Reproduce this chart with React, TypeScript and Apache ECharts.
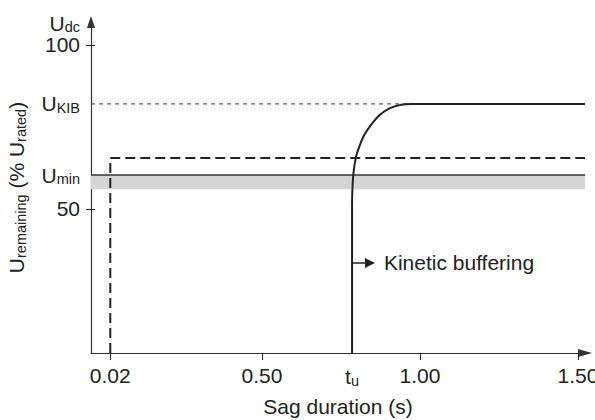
import React, { useEffect, useRef } from 'react';
import * as echarts from 'echarts';

// x axis (sag duration, s)
const xTickValues = [0.02, 0.5, 1.0, 1.5];
const xLabelValues = [0.02, 0.5, 0.785, 1.0, 1.5];
const xLabelTexts = ['0.02', '0.50', '{t|t}{s|u}', '1.00', '1.50'];
// y axis (% U rated)
const yTickValues = [50, 100];
const yLabelValues = [50, 60.3, 82, 100];
const yLabelTexts = ['50', '{u|U}{s|min}', '{u|U}{s|KIB}', '100'];

const xMin = -0.041;
const xMax = 1.522;
const yMin = 6;
const yMax = 107;

const tU = 0.785;
const sagStart = 0.02;
const uKIB = 82;
const uSag = 65.5;
const uMin = 60.3;
const bandLow = 56;
const kibReach = 0.973;
const kineticY = 33.5;
const kineticArrowEnd = 0.8415;

// kinetic buffering curve
const curveX = [0.785, 0.785, 0.7855, 0.7887, 0.797, 0.81, 0.8235, 0.845, 0.873, 0.905, 0.936, 0.973, 1.522];
const curveY = [6, 50, 54.2, 60.3, 65.7, 69.5, 72.5, 75.6, 78.7, 80.7, 81.7, 82, 82];

const FONT = '"Liberation Sans", Arial, Helvetica, sans-serif';
const INK = '#222';
const FS = 21;

const rich = {
  u: { fontSize: FS, fontFamily: FONT, color: INK, lineHeight: 23 },
  t: { fontSize: FS, fontFamily: FONT, color: INK, lineHeight: 23 },
  s: { fontSize: 14.5, fontFamily: FONT, color: INK, lineHeight: 14, verticalAlign: 'bottom' },
};

const near = (a: number, b: number) => Math.abs(a - b) < 1e-6;

export default function App() {
  const ref = useRef<HTMLDivElement>(null);
  useEffect(() => {
    if (!ref.current) return;
    const chart = echarts.init(ref.current, null, { renderer: 'svg' });
    const option: any = {
      animation: false,
      backgroundColor: '#fff',
      textStyle: { fontFamily: FONT, color: INK },
      grid: { left: 91, right: 10, top: 22, bottom: 67, containLabel: false, outerBoundsMode: 'none' },
      xAxis: {
        type: 'value',
        min: xMin,
        max: xMax,
        name: 'Sag duration (s)',
        nameLocation: 'middle',
        nameGap: 43,
        nameTextStyle: { fontSize: FS, color: INK, fontFamily: FONT },
        axisLine: {
          show: true,
          onZero: false,
          symbol: ['none', 'triangle'],
          symbolSize: [8, 14],
          lineStyle: { color: '#333', width: 1.2 },
        },
        axisTick: { show: true, customValues: xTickValues, length: 7, lineStyle: { color: '#333', width: 1.2 } },
        axisLabel: {
          show: true,
          customValues: xLabelValues,
          margin: 12,
          fontSize: FS,
          color: INK,
          fontFamily: FONT,
          rich,
          formatter: (v: number) => {
            const i = xLabelValues.findIndex((x) => near(x, v));
            return i >= 0 ? xLabelTexts[i] : '';
          },
        },
        splitLine: { show: false },
      },
      yAxis: [
        {
          type: 'value',
          min: yMin,
          max: yMax,
          position: 'left',
          name: '{u|U}{s|dc}',
          nameLocation: 'end',
          nameGap: -6,
          nameTextStyle: { align: 'right', verticalAlign: 'middle', padding: [0, 11, 6, 0], rich },
          axisLine: {
            show: true,
            onZero: false,
            symbol: ['none', 'triangle'],
            symbolSize: [8, 12],
            lineStyle: { color: '#333', width: 1.2 },
          },
          axisTick: { show: true, inside: true, customValues: yTickValues, length: 4, lineStyle: { color: '#333', width: 1.2 } },
          axisLabel: {
            show: true,
            customValues: yLabelValues,
            margin: 11,
            fontSize: FS,
            lineHeight: 18,
            color: INK,
            fontFamily: FONT,
            rich,
            formatter: (v: number) => {
              const i = yLabelValues.findIndex((y) => near(y, v));
              return i >= 0 ? yLabelTexts[i] : '';
            },
          },
          splitLine: { show: false },
        },
        {
          type: 'value',
          min: yMin,
          max: yMax,
          position: 'left',
          offset: 0,
          name: '{u|U}{s|remaining}{u| (% U}{s|rated}{u|)}',
          nameLocation: 'middle',
          nameRotate: 90,
          nameGap: 63,
          nameTextStyle: { rich },
          axisLine: { show: false, onZero: false },
          axisTick: { show: true, inside: false, customValues: yTickValues, length: 5, lineStyle: { color: '#333', width: 1.2 } },
          axisLabel: { show: false },
          splitLine: { show: false },
        },
      ],
      series: [
        {
          name: 'Umin',
          type: 'line',
          symbol: 'none',
          data: [[xMin, uMin], [xMax, uMin]],
          lineStyle: { color: '#333', width: 1.5 },
          z: 3,
          markArea: {
            silent: true,
            itemStyle: { color: '#d4d4d4' },
            data: [[{ coord: [xMin, bandLow] }, { coord: [xMax, uMin] }]],
          },
        },
        {
          name: 'UKIB',
          type: 'line',
          symbol: 'none',
          data: [[xMin, uKIB], [kibReach, uKIB]],
          lineStyle: { color: '#333', width: 1, type: [4, 4] },
        },
        {
          name: 'Sag',
          type: 'line',
          symbol: 'none',
          data: [[sagStart, yMin], [sagStart, uSag], [xMax, uSag]],
          lineStyle: { color: INK, width: 2, type: [10, 5] },
        },
        {
          name: 'Kinetic',
          type: 'line',
          symbol: 'none',
          smooth: 0.15,
          data: curveX.map((x, i) => [x, curveY[i]]),
          lineStyle: { color: INK, width: 2 },
          markLine: {
            silent: true,
            symbol: ['none', 'triangle'],
            symbolSize: 10,
            lineStyle: { color: INK, width: 1.5, type: 'solid' },
            label: {
              show: true,
              position: 'end',
              distance: 14,
              formatter: 'Kinetic buffering',
              fontSize: FS,
              color: INK,
              fontFamily: FONT,
            },
            data: [[{ coord: [tU, kineticY] }, { coord: [kineticArrowEnd, kineticY] }]],
          },
        },
      ],
    };
    chart.setOption(option);
    return () => chart.dispose();
  }, []);
  return (
    <div
      ref={ref}
      style={{ position: 'fixed', left: 0, top: 0, width: 595, height: 420, background: '#fff' }}
    />
  );
}
